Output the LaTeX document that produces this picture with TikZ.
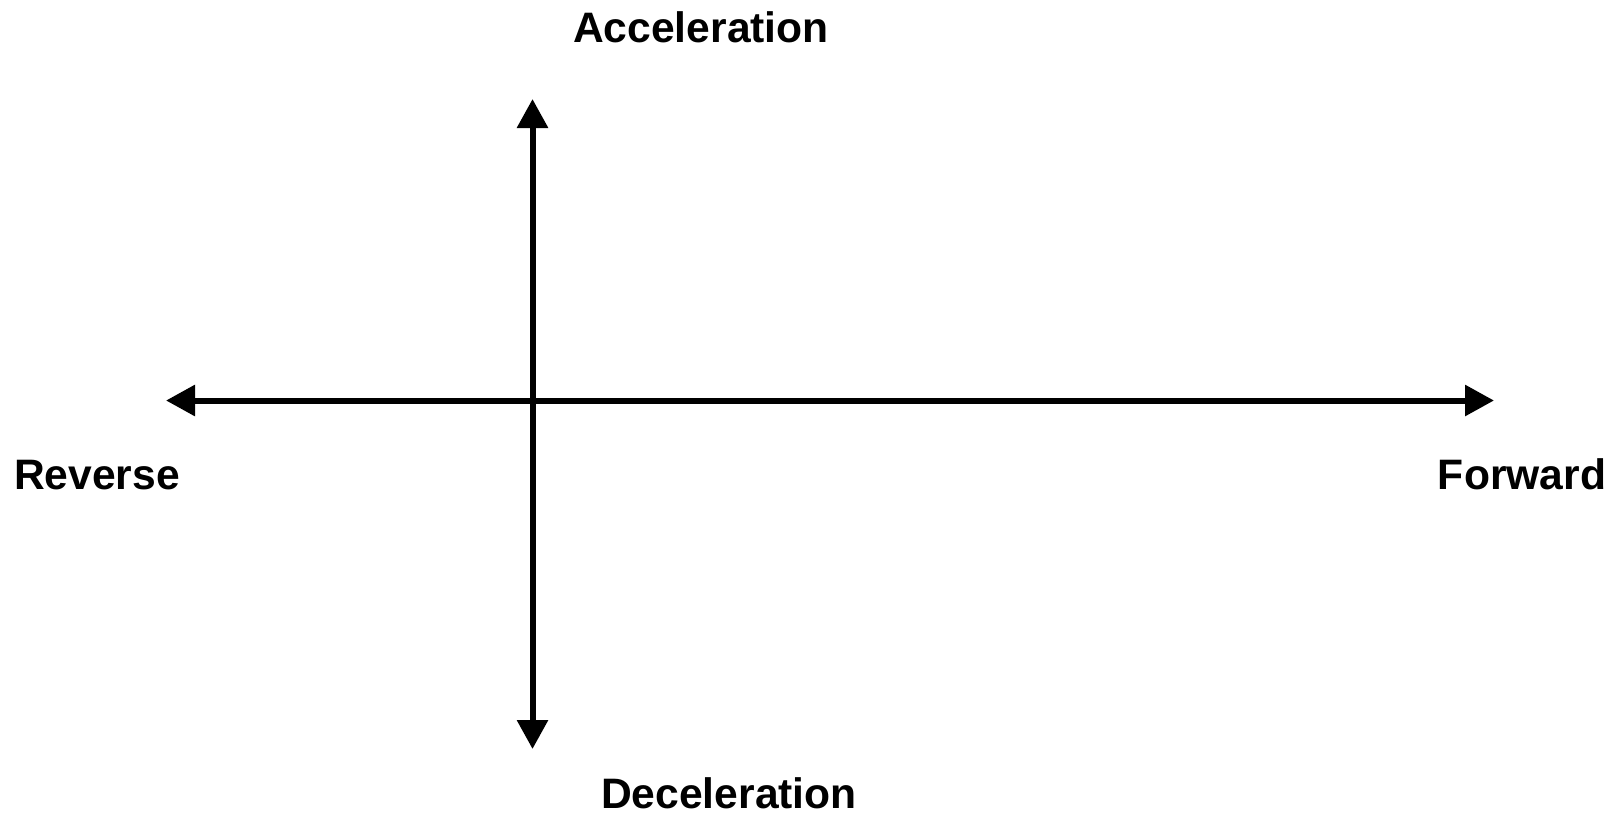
\documentclass[tikz,border=0pt]{standalone}
\usepackage{fontspec}
\setmainfont{Liberation Sans}
\usetikzlibrary{arrows.meta}
\tikzset{
  axis/.style={line width=3pt, {Triangle[length=14.5pt,width=15pt]}-{Triangle[length=14.5pt,width=15pt]}},
  lbl/.style={inner sep=0pt, anchor=base, font=\fontsize{21.3pt}{25pt}\selectfont\bfseries}
}
\begin{document}
\begin{tikzpicture}[x=0.5pt,y=-0.5pt]
\useasboundingbox (0,0) rectangle (1611,814);
\coordinate (L) at (166,400.5);
\coordinate (R) at (1494,400.5);
\coordinate (T) at (532.5,99);
\coordinate (B) at (532.5,749);
\draw[axis] (L) -- (R);
\draw[axis] (B) -- (T);
\node[lbl] (acc) at (701,42) {Acceleration};
\node[lbl] (dec) at (729,808.5) {Deceleration};
\node[lbl] (rev) at (97,489) {Reverse};
\node[lbl] (fwd) at (1522,489) {Forward};
\end{tikzpicture}
\end{document}
